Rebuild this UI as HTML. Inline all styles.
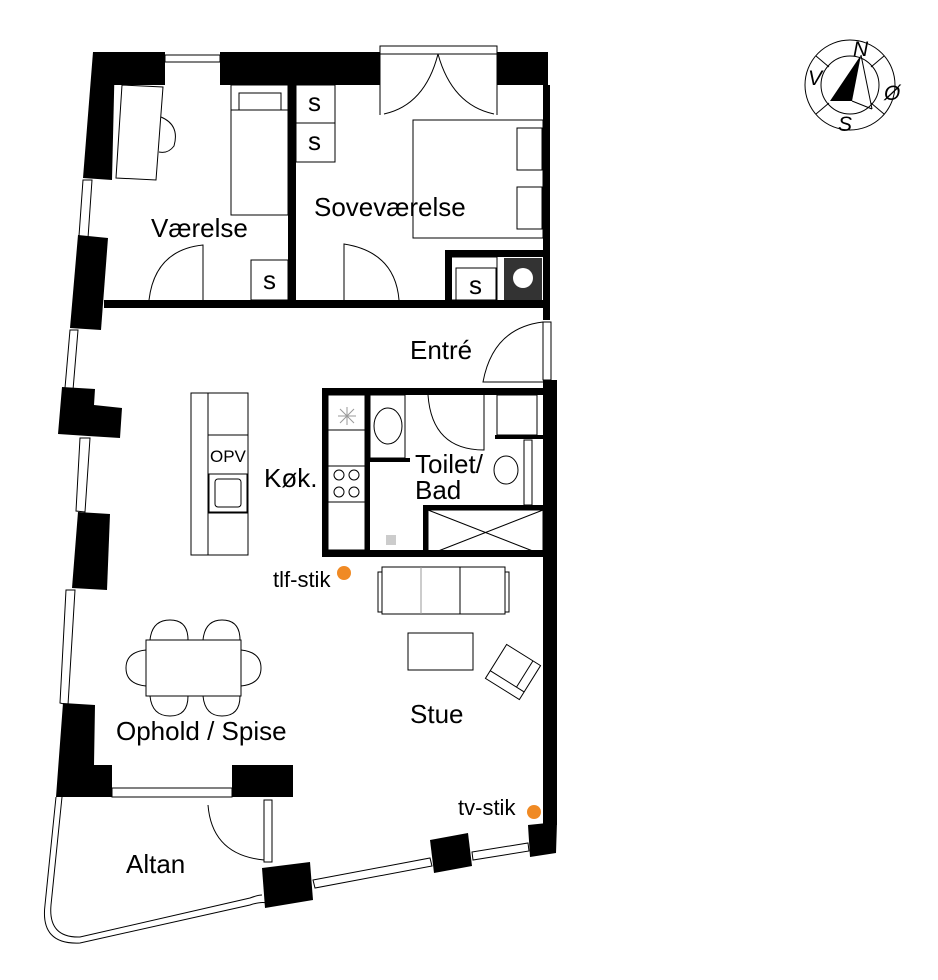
<!DOCTYPE html>
<html><head><meta charset="utf-8"><style>
html,body{margin:0;padding:0;background:#fff;width:938px;height:980px;overflow:hidden}
svg{display:block}
text{font-family:"Liberation Sans",sans-serif;fill:#000}
</style></head><body>
<svg width="938" height="980" viewBox="0 0 938 980" xmlns="http://www.w3.org/2000/svg">
<g fill="#000" stroke="none">
<rect x="93" y="52" width="72" height="33"/>
<rect x="220" y="52" width="160" height="33"/>
<rect x="497" y="52" width="51" height="33"/>
<polygon points="93,52 115,52 112,180 83,178"/>
<polygon points="78,235 108,238 101,330 70,328"/>
<polygon points="62,387 95,389 94,405 122,408 120,438 88,436 58,434"/>
<polygon points="78,512 110,514 107,590 72,588"/>
<polygon points="63,703 95,705 94,765 112,765 112,797 56,797"/>
<rect x="232" y="765" width="61" height="32"/>
<rect x="543" y="85" width="7" height="235"/>
<rect x="543" y="380" width="14" height="445"/>
<polygon points="528,825 557,822 556,853 530,857"/>
<polygon points="430,840 468,833 472,866 434,873"/>
<polygon points="262,868 310,862 313,900 265,908"/>
<rect x="104" y="300" width="439" height="8"/>
<rect x="288" y="85" width="8" height="215"/>
<rect x="445" y="250" width="98" height="7"/>
<rect x="445" y="250" width="7" height="50"/>
<rect x="322" y="388" width="221" height="7"/>
<rect x="322" y="388" width="6" height="169"/>
<rect x="322" y="550" width="223" height="7"/>
<rect x="365" y="395" width="5" height="162"/>
<rect x="370" y="458" width="40" height="4"/>
<rect x="423" y="505" width="122" height="5"/>
<rect x="423" y="505" width="5" height="50"/>
<rect x="495" y="435" width="48" height="4"/>
<rect x="504" y="258" width="38" height="42" fill="#333"/>
</g>
<g fill="none" stroke="#000" stroke-width="1">
<rect x="165" y="55" width="55" height="7"/>
<polygon points="83,180 92,180 88,238 79,236"/>
<polygon points="70,330 78,330 73,390 65,388"/>
<polygon points="80,438 90,438 85,512 76,511"/>
<polygon points="66,590 75,590 68,705 60,703"/>
<rect x="112" y="788" width="120" height="9"/>
<rect x="264" y="800" width="8" height="62"/>
<polygon points="313,880 430,858 432,866 315,888"/>
<polygon points="472,852 528,843 529,851 473,860"/>
<path d="M56,797 L45,905 Q40,945 80,943 L250,905 Q265,900 270,905"/>
<path d="M62,797 L51,905 Q48,938 80,937 L250,898 Q258,895 262,895"/>
<rect x="380" y="46" width="117" height="8"/>
<path d="M380,115 L380,54 M497,115 L497,54 M438,54 Q425,105 384,114 M438,54 Q452,105 494,114"/>
<path d="M203,300 L203,245 Q155,250 149,300"/>
<path d="M344,300 L344,244 Q395,252 399,300"/>
<path d="M543,322 Q493,328 483,382 L543,382"/>
<rect x="543" y="322" width="8" height="58"/>
<path d="M428,395 Q432,450 484,450 L484,395"/>
<path d="M208,805 Q212,855 264,860"/>
<polygon points="122,85 163,87 156,180 116,178"/>
<path d="M161,117 Q180,125 174,146 Q168,154 159,152"/>
<rect x="231" y="85" width="57" height="130"/>
<rect x="239" y="93" width="42" height="17"/>
<line x1="231" y1="110" x2="288" y2="110"/>
<rect x="296" y="85" width="39" height="38"/>
<rect x="296" y="123" width="39" height="39"/>
<rect x="251" y="260" width="37" height="40"/>
<rect x="456" y="268" width="40" height="39"/>
<rect x="450" y="257" width="47" height="43"/>
<rect x="413" y="120" width="130" height="118"/>
<rect x="517" y="128" width="25" height="42"/>
<rect x="517" y="187" width="25" height="42"/>
<rect x="191" y="393" width="57" height="162"/>
<line x1="208" y1="393" x2="208" y2="555"/>
<line x1="208" y1="435" x2="248" y2="435"/>
<rect x="209" y="474" width="38" height="38"/>
<rect x="215" y="479" width="26" height="28" rx="3"/>
<line x1="208" y1="513" x2="248" y2="513"/>
<rect x="328" y="395" width="37" height="155"/>
<line x1="328" y1="430" x2="365" y2="430"/>
<line x1="328" y1="466" x2="365" y2="466"/>
<line x1="328" y1="502" x2="365" y2="502"/>
<circle cx="339" cy="475" r="5"/><circle cx="354" cy="475" r="5"/>
<circle cx="339" cy="492" r="5"/><circle cx="354" cy="492" r="5"/>
<path d="M340,409 L354,423 M354,409 L340,423 M347,407 L347,425 M338,416 L356,416" stroke="#999"/>
<rect x="370" y="395" width="35" height="63"/>
<ellipse cx="388" cy="426" rx="14" ry="18"/>
<rect x="428" y="510" width="115" height="45"/>
<line x1="428" y1="510" x2="543" y2="555"/><line x1="428" y1="555" x2="543" y2="510"/>
<rect x="497" y="395" width="40" height="40"/>
<rect x="524" y="440" width="8" height="65"/>
<ellipse cx="506" cy="470" rx="12" ry="14"/>
<rect x="386" y="535" width="10" height="10" fill="#ccc" stroke="none"/>
<rect x="382" y="567" width="123" height="47"/>
<rect x="378" y="572" width="4" height="40"/><rect x="505" y="572" width="4" height="40"/>
<line x1="421" y1="567" x2="421" y2="614" stroke="#999"/>
<line x1="460" y1="567" x2="460" y2="614"/>
<rect x="408" y="633" width="65" height="37"/>
<g transform="rotate(32 513 672)"><rect x="493" y="652" width="40" height="40"/><line x1="493" y1="683" x2="533" y2="683"/><line x1="524" y1="652" x2="524" y2="683"/></g>
<rect x="146" y="640" width="95" height="56"/>
<path d="M150,640 Q152,620 170,620 Q188,620 188,640 M203,640 Q205,620 222,620 Q240,620 240,640"/>
<path d="M150,696 Q152,716 170,716 Q188,716 188,696 M203,696 Q205,716 222,716 Q240,716 240,696"/>
<path d="M146,650 Q126,652 126,668 Q126,684 146,686 M241,650 Q261,652 261,668 Q261,684 241,686"/>
<circle cx="850" cy="85" r="45"/>
<circle cx="850" cy="85" r="29"/>
<line x1="816" y1="56" x2="829" y2="67"/><line x1="884" y1="56" x2="871" y2="67"/>
<line x1="816" y1="114" x2="829" y2="103"/><line x1="884" y1="114" x2="871" y2="103"/>
<line x1="861" y1="55" x2="872" y2="109"/><line x1="852" y1="101" x2="872" y2="109"/>
</g>
<polygon points="861,55 830,101 852,101" fill="#000"/>
<circle cx="523" cy="278" r="10" fill="#fff"/>
<g fill="#f08a24"><circle cx="344" cy="573" r="7"/><circle cx="534" cy="812" r="7"/></g>
<g font-size="26">
<text x="151" y="237">Værelse</text>
<text x="314" y="216">Soveværelse</text>
<text x="410" y="359">Entré</text>
<text x="264" y="487">Køk.</text>
<text x="415" y="473">Toilet/</text>
<text x="415" y="499">Bad</text>
<text x="410" y="723">Stue</text>
<text x="116" y="740">Ophold / Spise</text>
<text x="126" y="873">Altan</text>
<text x="308" y="111">s</text><text x="308" y="150">s</text>
<text x="263" y="289">s</text><text x="469" y="294">s</text>
</g>
<text x="210" y="462" font-size="17">OPV</text>
<text x="273" y="587" font-size="22">tlf-stik</text>
<text x="458" y="815" font-size="22">tv-stik</text>
<g font-size="21" font-style="italic">
<text x="853" y="56">N</text><text x="808" y="85">V</text><text x="884" y="100">Ø</text><text x="838" y="131">S</text>
</g>
</svg>
</body></html>
